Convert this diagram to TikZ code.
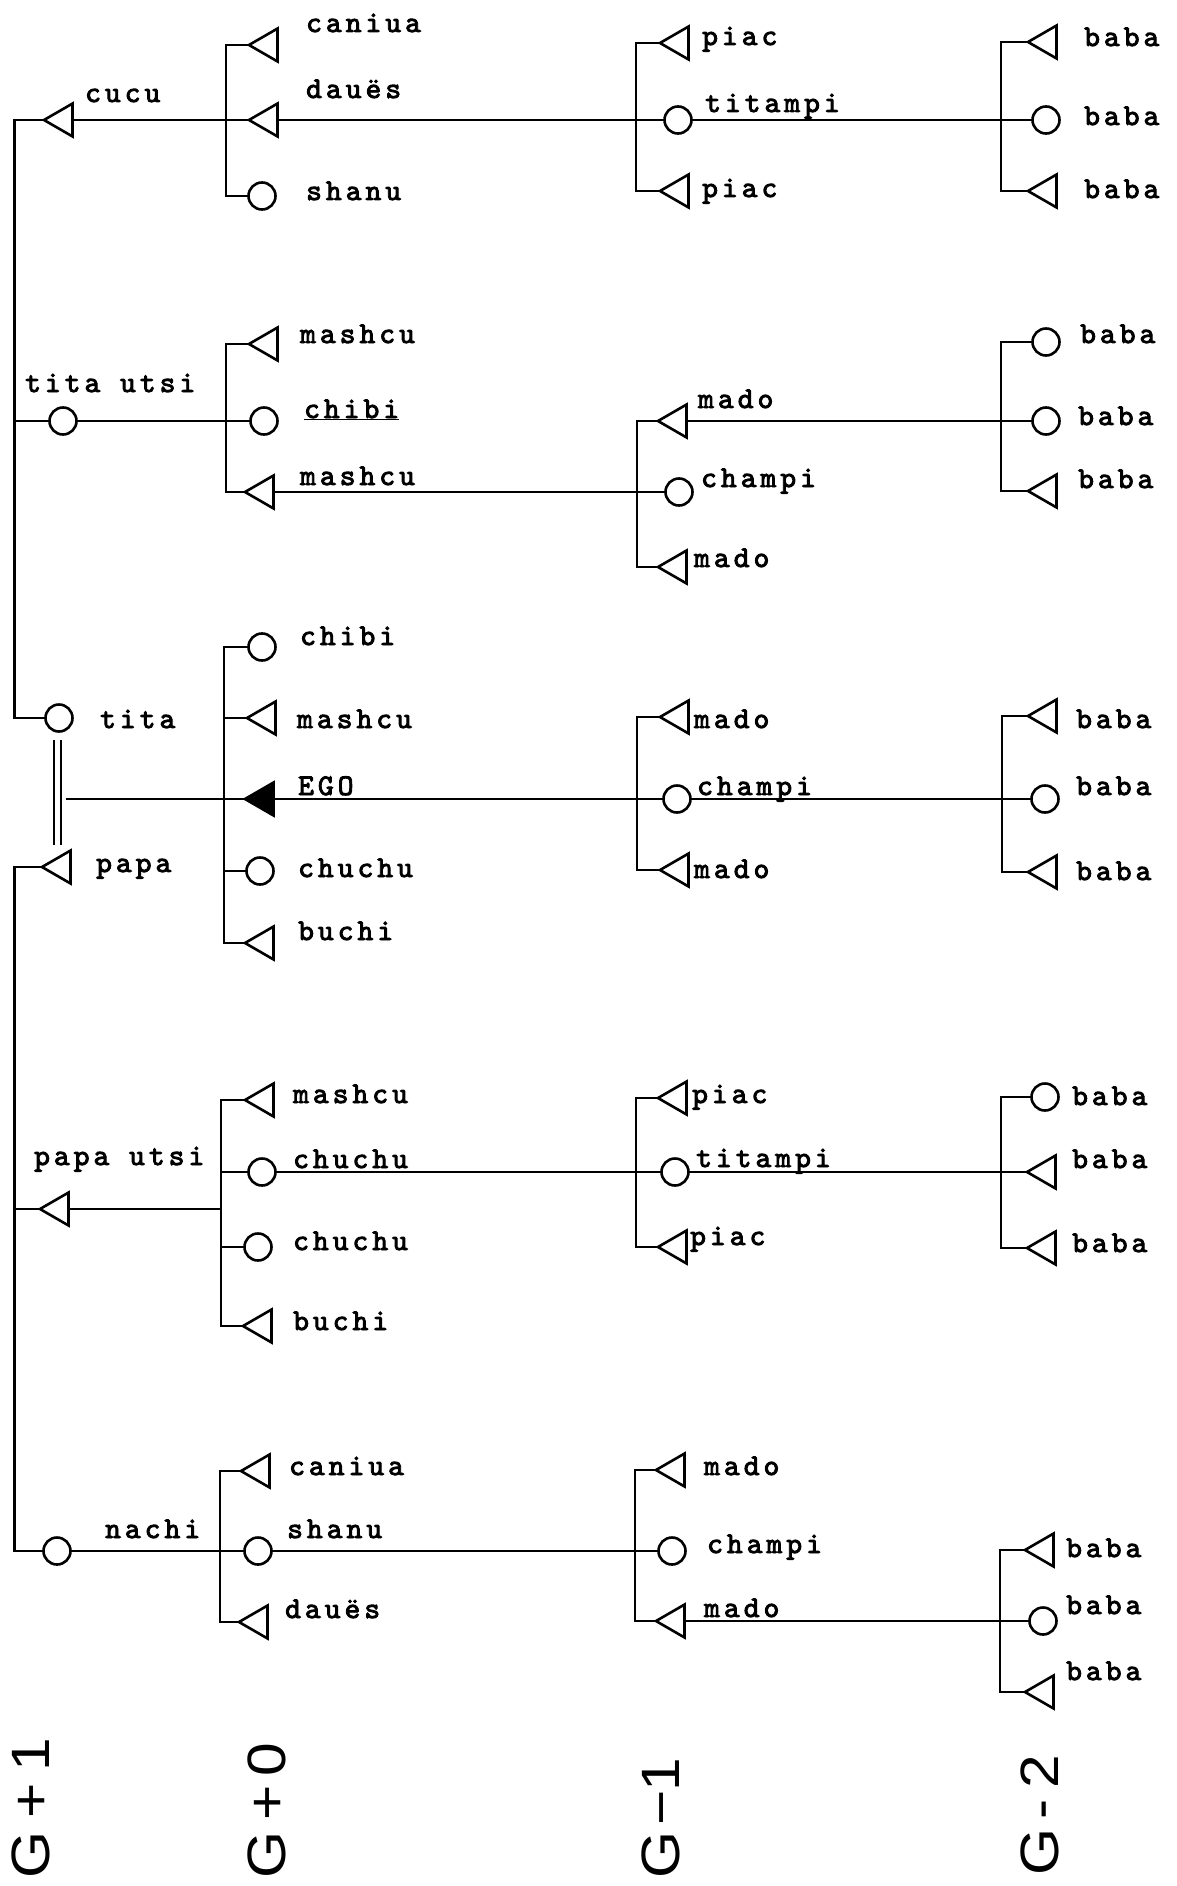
\documentclass[tikz,border=0pt]{standalone}
\usepackage{fontspec}
\usetikzlibrary{shapes.geometric}
\newfontfamily\tw{lmmono10-regular.otf}[LetterSpace=13.5,FakeBold=3]
\newfontfamily\lett{Liberation Sans}
\tikzset{
  kin/.style={line width=2.6pt},
  male/.style={draw, line width=2.6pt, regular polygon, regular polygon sides=3,
    shape border rotate=90, minimum size=38pt, inner sep=0pt, outer sep=0pt},
  female/.style={draw, line width=2.6pt, circle, minimum size=27pt, inner sep=0pt, outer sep=0pt},
  egobox/.style={male, fill=black},
  lbl/.style={anchor=base west, inner sep=0pt, font=\tw\fontsize{30}{30}\selectfont},
  gen/.style={rotate=90, anchor=west, inner sep=0pt, font=\lett\fontsize{54}{54}\selectfont},
}
\begin{document}
\begin{tikzpicture}[x=1pt,y=-1pt]
\fill[white] (0,0) rectangle (1176,1886);
\useasboundingbox (0,0) rectangle (1176,1886);

% ---------------- Group A (cucu) ----------------
\node[male] (aP) at (63,120) {};
\node[male] (a0a) at (268,45) {};
\node[male] (a0b) at (268,120) {};
\node[female] (a0c) at (262,196) {};
\node[male] (a1a) at (679,43) {};
\node[female] (a1b) at (678,120) {};
\node[male] (a1c) at (679,191) {};
\node[male] (a2a) at (1047,42) {};
\node[female] (a2b) at (1046,120) {};
\node[male] (a2c) at (1047,191) {};
\coordinate (sA0) at (226,120);
\coordinate (sA1) at (636,120);
\coordinate (sA2) at (1001,120);
\draw[kin] (a0a.west) -| (sA0) |- (a0c.west);
\draw[kin] (aP.east) -- (a0b.west);
\draw[kin] (a1a.west) -| (sA1) |- (a1c.west);
\draw[kin] (a0b.east) -- (a1b.west);
\draw[kin] (a2a.west) -| (sA2) |- (a2c.west);
\draw[kin] (a1b.east) -- (a2b.west);

\node[lbl] (laP) at (85,102) {cucu};
\node[lbl] (la0a) at (306,32) {caniua};
\node[lbl] (la0b) at (306,98) {dauës};
\node[lbl] (la0c) at (306,200) {shanu};
\node[lbl] (la1a) at (702,45) {piac};
\node[lbl] (la1b) at (705,112) {titampi};
\node[lbl] (la1c) at (702,197) {piac};
\node[lbl] (la2a) at (1084,46) {baba};
\node[lbl] (la2b) at (1084,125) {baba};
\node[lbl] (la2c) at (1084,198) {baba};

% ---------------- Group B (tita utsi) ----------------
\node[female] (bP) at (63,421) {};
\node[male] (b0a) at (268,344) {};
\node[female] (b0b) at (264,421) {};
\node[male] (b0c) at (264,492) {};
\node[male] (b1a) at (677,421) {};
\node[female] (b1b) at (679,492) {};
\node[male] (b1c) at (677,567) {};
\node[female] (b2a) at (1046,342) {};
\node[female] (b2b) at (1046,421) {};
\node[male] (b2c) at (1047,491) {};
\coordinate (sB0) at (226,421);
\coordinate (sB1) at (637,492);
\coordinate (sB2) at (1001,421);
\draw[kin] (b0a.west) -| (sB0) |- (b0c.west);
\draw[kin] (bP.east) -- (b0b.west);
\draw[kin] (b1a.west) -| (sB1) |- (b1c.west);
\draw[kin] (b0c.east) -- (b1b.west);
\draw[kin] (b2a.west) -| (sB2) |- (b2c.west);
\draw[kin] (b1a.east) -- (b2b.west);

\node[lbl] (lbP) at (25,392) {tita utsi};
\node[lbl] (lb0a) at (300,343) {mashcu};
\node[lbl] (lb0b) at (304,418) {\underline{chibi}};
\node[lbl] (lb0c) at (300,485) {mashcu};
\node[lbl] (lb1a) at (698,408) {mado};
\node[lbl] (lb1b) at (701,487) {champi};
\node[lbl] (lb1c) at (694,567) {mado};
\node[lbl] (lb2a) at (1080,343) {baba};
\node[lbl] (lb2b) at (1078,425) {baba};
\node[lbl] (lb2c) at (1078,488) {baba};

% ---------------- Group C (tita = papa, EGO) ----------------
\node[female] (cF) at (59,718) {};
\node[male] (cM) at (61,867) {};
\node[female] (c0a) at (262,647) {};
\node[male] (c0b) at (266,718) {};
\node[egobox] (ego) at (264,799) {};
\node[female] (c0d) at (260,871) {};
\node[male] (c0e) at (264,943) {};
\node[male] (c1a) at (679,717) {};
\node[female] (c1b) at (677,799) {};
\node[male] (c1c) at (679,870) {};
\node[male] (c2a) at (1047,716) {};
\node[female] (c2b) at (1045,799) {};
\node[male] (c2c) at (1047,872) {};
\coordinate (sC0) at (224,799);
\coordinate (sC1) at (637,799);
\coordinate (sC2) at (1002,799);
\coordinate (mtl) at (54,740);
\coordinate (mbl) at (54,845);
\coordinate (mtr) at (61,740);
\coordinate (mbr) at (61,845);
\coordinate (marr) at (66,799);
\draw[kin] (mtl) -- (mbl);
\draw[kin] (mtr) -- (mbr);
\draw[kin] (c0a.west) -| (sC0) |- (c0e.west);
\draw[kin] (sC0 |- c0b.west) -- (c0b.west);
\draw[kin] (sC0 |- c0d.west) -- (c0d.west);
\draw[kin] (marr) -- (ego.west);
\draw[kin] (c1a.west) -| (sC1) |- (c1c.west);
\draw[kin] (ego.east) -- (c1b.west);
\draw[kin] (c2a.west) -| (sC2) |- (c2c.west);
\draw[kin] (c1b.east) -- (c2b.west);

\node[lbl] (lcF) at (100,728) {tita};
\node[lbl] (lcM) at (96,872) {papa};
\node[lbl] (lc0a) at (300,645) {chibi};
\node[lbl] (lc0b) at (297,728) {mashcu};
\node[lbl] (lego) at (298,795) {EGO};
\node[lbl] (lc0d) at (298,877) {chuchu};
\node[lbl] (lc0e) at (298,940) {buchi};
\node[lbl] (lc1a) at (694,728) {mado};
\node[lbl] (lc1b) at (697,795) {champi};
\node[lbl] (lc1c) at (694,878) {mado};
\node[lbl] (lc2a) at (1076,728) {baba};
\node[lbl] (lc2b) at (1076,795) {baba};
\node[lbl] (lc2c) at (1076,880) {baba};

% ---------------- Group D (papa utsi) ----------------
\node[male] (dP) at (59,1209) {};
\node[male] (d0a) at (264,1100) {};
\node[female] (d0b) at (262,1172) {};
\node[female] (d0c) at (258,1247) {};
\node[male] (d0d) at (262,1326) {};
\node[male] (d1a) at (677,1098) {};
\node[female] (d1b) at (675,1172) {};
\node[male] (d1c) at (677,1247) {};
\node[female] (d2a) at (1045,1097) {};
\node[male] (d2b) at (1046,1172) {};
\node[male] (d2c) at (1046,1248) {};
\coordinate (sD0) at (221,1209);
\coordinate (sD1) at (636,1172);
\coordinate (sD2) at (1001,1172);
\draw[kin] (d0a.west) -| (sD0) |- (d0d.west);
\draw[kin] (dP.east) -- (sD0);
\draw[kin] (sD0 |- d0b.west) -- (d0b.west);
\draw[kin] (sD0 |- d0c.west) -- (d0c.west);
\draw[kin] (d1a.west) -| (sD1) |- (d1c.west);
\draw[kin] (d0b.east) -- (d1b.west);
\draw[kin] (d2a.west) -| (sD2) |- (d2c.west);
\draw[kin] (d1b.east) -- (d2b.west);

\node[lbl] (ldP) at (34,1165) {papa utsi};
\node[lbl] (ld0a) at (293,1103) {mashcu};
\node[lbl] (ld0b) at (293,1168) {chuchu};
\node[lbl] (ld0c) at (293,1250) {chuchu};
\node[lbl] (ld0d) at (293,1330) {buchi};
\node[lbl] (ld1a) at (692,1103) {piac};
\node[lbl] (ld1b) at (696,1167) {titampi};
\node[lbl] (ld1c) at (690,1245) {piac};
\node[lbl] (ld2a) at (1072,1105) {baba};
\node[lbl] (ld2b) at (1072,1168) {baba};
\node[lbl] (ld2c) at (1072,1252) {baba};

% ---------------- Group E (nachi) ----------------
\node[female] (eP) at (57,1551) {};
\node[male] (e0a) at (260,1471) {};
\node[female] (e0b) at (258,1551) {};
\node[male] (e0c) at (258,1622) {};
\node[male] (e1a) at (675,1470) {};
\node[female] (e1b) at (672,1551) {};
\node[male] (e1c) at (675,1621) {};
\node[male] (e2a) at (1044,1550) {};
\node[female] (e2b) at (1043,1621) {};
\node[male] (e2c) at (1044,1692) {};
\coordinate (sE0) at (220,1551);
\coordinate (sE1) at (635,1551);
\coordinate (sE2) at (1000,1621);
\draw[kin] (e0a.west) -| (sE0) |- (e0c.west);
\draw[kin] (eP.east) -- (e0b.west);
\draw[kin] (e1a.west) -| (sE1) |- (e1c.west);
\draw[kin] (e0b.east) -- (e1b.west);
\draw[kin] (e2a.west) -| (sE2) |- (e2c.west);
\draw[kin] (e1c.east) -- (e2b.west);

\node[lbl] (leP) at (105,1538) {nachi};
\node[lbl] (le0a) at (289,1475) {caniua};
\node[lbl] (le0b) at (287,1538) {shanu};
\node[lbl] (le0c) at (285,1618) {dauës};
\node[lbl] (le1a) at (704,1475) {mado};
\node[lbl] (le1b) at (707,1553) {champi};
\node[lbl] (le1c) at (704,1617) {mado};
\node[lbl] (le2a) at (1066,1557) {baba};
\node[lbl] (le2b) at (1066,1614) {baba};
\node[lbl] (le2c) at (1066,1680) {baba};

% ---------------- G+1 spines ----------------
\coordinate (s1u) at (14.5,421);
\coordinate (s1l) at (14.5,1209);
\draw[kin] (aP.west) -| (s1u) |- (cF.west);
\draw[kin] (s1u) -- (bP.west);
\draw[kin] (cM.west) -| (s1l) |- (eP.west);
\draw[kin] (s1l) -- (dP.west);

% ---------------- generation labels ----------------
\node[gen] (g1) at (31,1879) {\scalebox{1.12}[1]{G\hspace{12pt}+\hspace{10pt}1}};
\node[gen] (g0) at (267,1879) {\scalebox{1.12}[1]{G\hspace{10pt}+\hspace{8pt}0}};
\node[gen] (gm1) at (661,1879) {\scalebox{1.12}[1]{G\hspace{6pt}−\hspace{-2pt}1}};
\node[gen] (gm2) at (1040,1876) {\scalebox{1.12}[1]{G\hspace{8pt}-\hspace{10pt}2}};
\end{tikzpicture}
\end{document}
